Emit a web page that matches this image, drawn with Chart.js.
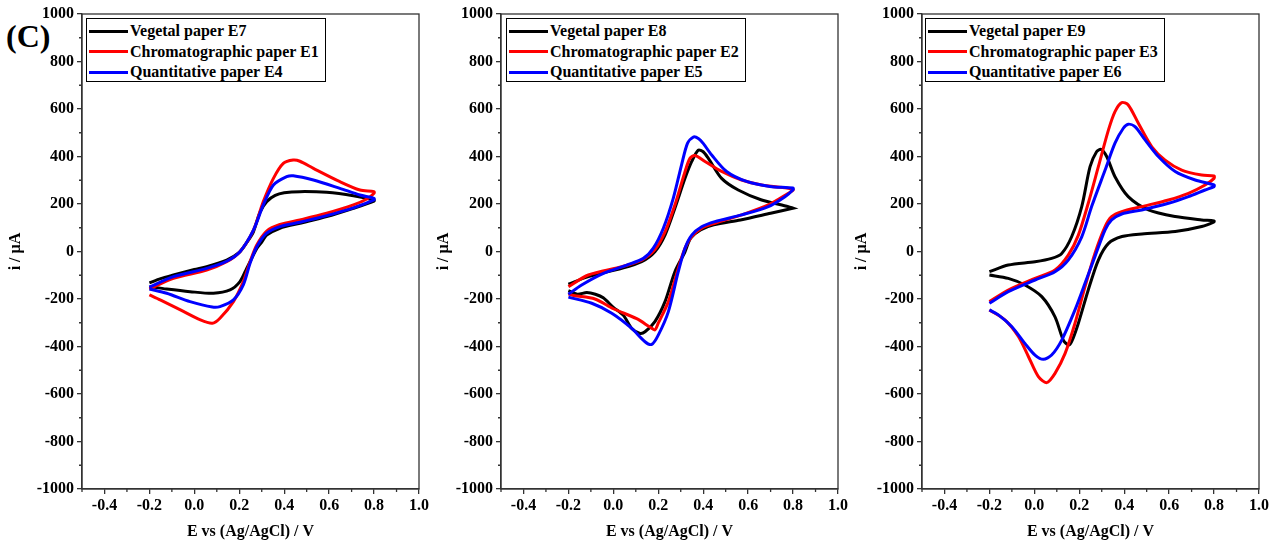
<!DOCTYPE html>
<html>
<head>
<meta charset="utf-8">
<script src="https://cdn.jsdelivr.net/npm/chart.js@4.4.1/dist/chart.umd.min.js"></script>
<style>
  html, body { margin: 0; padding: 0; background: #fff; width: 1282px; height: 544px; overflow: hidden; }
  .panel { position: absolute; top: 0; width: 431px; height: 544px; }
  .panel canvas { position: absolute; left: 0; top: 0; }
  .legend { position: absolute; top: 18px; width: 238px; height: 62px; border: 1px solid #000; background: #fff;
            font: bold 16px "Liberation Serif", "Times New Roman", serif; color: #000; }
  .legend .row { position: absolute; left: 0; height: 20px; display: flex; align-items: center; white-space: nowrap; }
  .legend .swatch { display: inline-block; width: 39px; height: 3px; margin-left: 2px; margin-right: 2px; }
  #tag { position: absolute; left: 6px; top: 20px; font: bold 32px "Liberation Serif", "Times New Roman", serif; line-height: 1; color: #000; }
</style>
</head>
<body>
<div id="tag">(C)</div>
<div class="panel" id="p1"><canvas id="c1" width="431" height="544"></canvas></div>
<div class="panel" id="p2"><canvas id="c2" width="431" height="544"></canvas></div>
<div class="panel" id="p3"><canvas id="c3" width="431" height="544"></canvas></div>
<script>
// Axis ticks shared by the three voltammograms
const X_TICK_LABELS = ['-0.4', '-0.2', '0.0', '0.2', '0.4', '0.6', '0.8', '1.0'];
const X_MINOR = [-0.5, -0.3, -0.1, 0.1, 0.3, 0.5, 0.7, 0.9];
const Y_TICK_LABELS = ['-1000', '-800', '-600', '-400', '-200', '0', '200', '400', '600', '800', '1000'];
const Y_MINOR = [-900, -700, -500, -300, -100, 100, 300, 500, 700, 900];
const X_TITLE = 'E vs (Ag/AgCl) / V';
const Y_TITLE = 'i / \u00b5A';

// Legend names
const NAMES_1 = ['Vegetal paper E7', 'Chromatographic paper E1', 'Quantitative paper E4'];
const NAMES_2 = ['Vegetal paper E8', 'Chromatographic paper E2', 'Quantitative paper E5'];
const NAMES_3 = ['Vegetal paper E9', 'Chromatographic paper E3', 'Quantitative paper E6'];

// Cyclic scans: potential (V) and current (µA), forward sweep then reverse sweep
const e7E = [-0.2, -0.15, -0.093, 0.0, 0.055, 0.144, 0.2, 0.235, 0.263, 0.292, 0.322, 0.36, 0.40, 0.47, 0.589, 0.708, 0.8,
             0.8, 0.708, 0.589, 0.47, 0.381, 0.322, 0.30, 0.278, 0.233, 0.203, 0.159, 0.085, -0.019, -0.123, -0.2];
const e7I = [-132, -114, -99, -76, -64, -36, -4, 40, 83, 165, 210, 236, 247, 252, 249, 235, 217,
             212, 182, 147, 119, 98, 69, 40, 13, -71, -127, -162, -176, -169, -158, -148];

const e1E = [-0.2, -0.093, 0.055, 0.144, 0.203, 0.263, 0.307, 0.352, 0.396, 0.44, 0.47, 0.53, 0.648, 0.737, 0.8,
             0.8, 0.77, 0.708, 0.589, 0.47, 0.381, 0.322, 0.278, 0.248, 0.218, 0.174, 0.114, 0.080, 0.027, -0.062, -0.152, -0.2];
const e1I = [-158, -113, -78, -43, -1, 90, 210, 308, 371, 385, 380, 350, 294, 259, 252,
             245, 222, 196, 161, 133, 114, 86, 27, -43, -127, -211, -281, -302, -288, -246, -204, -183];

const e4E = [-0.2, -0.093, 0.055, 0.144, 0.203, 0.263, 0.307, 0.352, 0.411, 0.44, 0.53, 0.648, 0.737, 0.8,
             0.8, 0.708, 0.589, 0.47, 0.381, 0.322, 0.278, 0.248, 0.218, 0.174, 0.114, 0.080, -0.019, -0.123, -0.2];
const e4I = [-150, -106, -71, -41, -1, 90, 196, 280, 315, 319, 301, 266, 238, 224,
             217, 184, 151, 123, 105, 77, 20, -50, -141, -204, -232, -234, -211, -176, -158];

const e8E = [-0.2, -0.111, 0.038, 0.126, 0.185, 0.230, 0.274, 0.319, 0.349, 0.378, 0.40, 0.423, 0.482, 0.556, 0.66, 0.779, 0.8,
             0.8, 0.70, 0.566, 0.447, 0.388, 0.344, 0.319, 0.274, 0.230, 0.185, 0.141, 0.119, 0.082, 0.045, 0.0, -0.045, -0.08, -0.118, -0.16, -0.2];
const e8I = [-138, -106, -71, -43, -1, 69, 182, 308, 379, 427, 420, 392, 308, 259, 217, 189, 182,
             182, 161, 133, 112, 91, 56, -1, -85, -211, -295, -338, -345, -324, -269, -235, -195, -180, -173, -180, -165];

const e2E = [-0.2, -0.111, 0.038, 0.126, 0.185, 0.230, 0.274, 0.319, 0.341, 0.363, 0.408, 0.482, 0.571, 0.66, 0.779, 0.8,
             0.8, 0.779, 0.69, 0.571, 0.452, 0.393, 0.349, 0.319, 0.289, 0.245, 0.2, 0.185, 0.163, 0.104, 0.0, -0.082, -0.178, -0.2];
const e2I = [-148, -99, -64, -36, 8, 83, 196, 336, 392, 404, 379, 337, 301, 280, 266, 263,
             258, 245, 196, 154, 119, 98, 63, 14, -71, -211, -302, -330, -318, -283, -241, -200, -185, -178];

const e5E = [-0.2, -0.141, -0.044, 0.060, 0.134, 0.178, 0.223, 0.267, 0.304, 0.33, 0.356, 0.38, 0.40, 0.438, 0.504, 0.593, 0.697, 0.8,
             0.8, 0.764, 0.69, 0.571, 0.452, 0.393, 0.349, 0.319, 0.289, 0.245, 0.2, 0.171, 0.141, 0.082, -0.007, -0.096, -0.2];
const e5I = [-180, -141, -92, -57, -29, 14, 99, 225, 366, 455, 482, 475, 455, 406, 337, 295, 274, 267,
             260, 231, 189, 154, 126, 104, 69, 14, -85, -253, -352, -391, -380, -324, -260, -218, -192];

const e9E = [-0.2, -0.116, 0.003, 0.077, 0.122, 0.166, 0.211, 0.248, 0.277, 0.297, 0.322, 0.359, 0.418, 0.508, 0.627, 0.745, 0.8,
             0.8, 0.745, 0.627, 0.479, 0.39, 0.33, 0.285, 0.24, 0.196, 0.166, 0.152, 0.129, 0.092, 0.033, -0.042, -0.116, -0.2];
const e9I = [-85, -57, -43, -29, -8, 62, 189, 357, 420, 430, 400, 315, 231, 175, 147, 133, 129,
             125, 105, 84, 74, 63, 34, -36, -162, -302, -380, -394, -373, -275, -190, -141, -113, -99];

const e3E = [-0.2, -0.116, 0.003, 0.092, 0.151, 0.196, 0.240, 0.285, 0.33, 0.359, 0.389, 0.418, 0.463, 0.523, 0.582, 0.656, 0.745, 0.8,
             0.8, 0.76, 0.686, 0.597, 0.478, 0.389, 0.344, 0.315, 0.27, 0.226, 0.181, 0.137, 0.092, 0.055, 0.018, -0.026, -0.071, -0.131, -0.2];
const e3I = [-211, -162, -113, -78, -15, 69, 203, 357, 512, 589, 627, 617, 540, 441, 385, 343, 322, 318,
             308, 280, 245, 217, 189, 168, 147, 105, -7, -147, -302, -429, -513, -552, -527, -443, -358, -288, -246];

const e6E = [-0.2, -0.116, 0.003, 0.092, 0.151, 0.211, 0.255, 0.315, 0.359, 0.396, 0.418, 0.448, 0.493, 0.552, 0.627, 0.716, 0.8,
             0.8, 0.76, 0.686, 0.597, 0.478, 0.389, 0.344, 0.315, 0.27, 0.226, 0.181, 0.122, 0.077, 0.04, 0.003, -0.042, -0.101, -0.16, -0.2];
const e6I = [-218, -169, -120, -85, -36, 62, 189, 343, 456, 519, 536, 526, 470, 400, 337, 301, 280,
             273, 259, 231, 203, 175, 158, 133, 91, -21, -133, -246, -373, -436, -454, -436, -387, -316, -267, -246];

const COLORS = ['#000000', '#ff0000', '#0000ff'];
const AXIS_COLOR = '#333333';
const FONT_FAMILY = '"Liberation Serif", "Times New Roman", serif';

const X_TICKS = X_TICK_LABELS.map(Number);
const Y_TICKS = Y_TICK_LABELS.map(Number);

function pairs(E, I) { return E.map((e, k) => ({ x: e, y: I[k] })); }

// Closed box around the plot plus the short minor ticks
const framePlugin = {
  id: 'frame',
  afterDraw(chart) {
    const { ctx, chartArea: a, scales } = chart;
    ctx.save();
    ctx.strokeStyle = AXIS_COLOR;
    ctx.lineWidth = 1.3;
    ctx.strokeRect(a.left, a.top, a.right - a.left, a.bottom - a.top);
    ctx.beginPath();
    X_MINOR.forEach(v => {
      const px = scales.x.getPixelForValue(v);
      ctx.moveTo(px, a.bottom); ctx.lineTo(px, a.bottom + 3);
    });
    Y_MINOR.forEach(v => {
      const py = scales.y.getPixelForValue(v);
      ctx.moveTo(a.left, py); ctx.lineTo(a.left - 3, py);
    });
    ctx.stroke();
    ctx.restore();
  }
};

function makePanel(id, canvasId, plotLeft, yTitlePad, legendLeft, names, curves) {
  const wrap = document.getElementById(id);
  const offset = plotLeft - 82;
  wrap.style.left = offset + 'px';

  const datasets = curves.map((c, k) => ({
    label: names[k],
    data: pairs(c[0], c[1]),
    borderColor: COLORS[k],
    backgroundColor: COLORS[k],
    borderWidth: 3,
    pointRadius: 0,
    showLine: true,
    fill: false,
    tension: 0.28,
    order: 2 - k
  }));

  const tickFont = { family: FONT_FAMILY, size: 16, weight: 'bold' };
  new Chart(document.getElementById(canvasId), {
    type: 'scatter',
    data: { datasets },
    plugins: [framePlugin],
    options: {
      responsive: false,
      animation: false,
      layout: { padding: { left: 0, right: 12, top: 14, bottom: 0 } },
      plugins: { legend: { display: false }, tooltip: { enabled: false } },
      scales: {
        x: {
          type: 'linear', min: -0.5, max: 1.0,
          afterBuildTicks: s => { s.ticks = X_TICKS.map(v => ({ value: v })); },
          afterFit: s => { s.height = 55; },
          ticks: {
            font: tickFont, color: '#000', padding: 2, maxRotation: 0,
            callback: (v) => { const k = X_TICKS.indexOf(v); return k >= 0 ? X_TICK_LABELS[k] : ''; }
          },
          grid: { drawOnChartArea: false, drawTicks: true, tickLength: 5, color: AXIS_COLOR, lineWidth: 1.3 },
          border: { display: true, color: AXIS_COLOR, width: 1.3 },
          title: { display: true, text: X_TITLE, font: tickFont, color: '#000', padding: { top: 0, bottom: 3 } }
        },
        y: {
          type: 'linear', min: -1000, max: 1000,
          afterBuildTicks: s => { s.ticks = Y_TICKS.map(v => ({ value: v })); },
          afterFit: s => { s.width = 82; },
          ticks: {
            font: tickFont, color: '#000', padding: 3,
            callback: (v) => { const k = Y_TICKS.indexOf(v); return k >= 0 ? Y_TICK_LABELS[k] : ''; }
          },
          grid: { drawOnChartArea: false, drawTicks: true, tickLength: 5, color: AXIS_COLOR, lineWidth: 1.3 },
          border: { display: true, color: AXIS_COLOR, width: 1.3 },
          title: { display: true, text: Y_TITLE, font: tickFont, color: '#000', padding: { top: yTitlePad, bottom: 0 } }
        }
      }
    }
  });

  // Legend box in the upper-left corner of the plot, built from the datasets
  const lg = document.createElement('div');
  lg.className = 'legend';
  lg.style.left = legendLeft + 'px';
  datasets.forEach((d, k) => {
    const row = document.createElement('div');
    row.className = 'row';
    row.style.top = (2 + k * 20.5) + 'px';
    const sw = document.createElement('span');
    sw.className = 'swatch';
    sw.style.background = d.borderColor;
    const tx = document.createElement('span');
    tx.textContent = d.label;
    row.appendChild(sw); row.appendChild(tx);
    lg.appendChild(row);
  });
  wrap.appendChild(lg);
}

makePanel('p1', 'c1', 82, 6.4, 86, NAMES_1, [[e7E, e7I], [e1E, e1I], [e4E, e4I]]);
makePanel('p2', 'c2', 501, 14.9, 87, NAMES_2, [[e8E, e8I], [e2E, e2I], [e5E, e5I]]);
makePanel('p3', 'c3', 922, 12.4, 85, NAMES_3, [[e9E, e9I], [e3E, e3I], [e6E, e6I]]);
</script>
</body>
</html>
